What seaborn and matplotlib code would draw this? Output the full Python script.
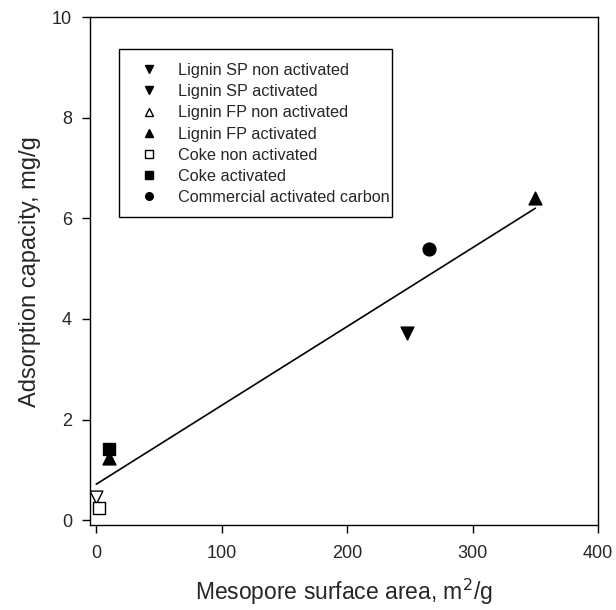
import numpy as np
import pandas as pd
import matplotlib
matplotlib.use('Agg')
import matplotlib.pyplot as plt
from matplotlib.lines import Line2D
from matplotlib.patches import Rectangle
import seaborn as sns

sns.set_style('ticks')
plt.rcParams['font.family'] = ['Liberation Sans', 'DejaVu Sans']

# Mesopore surface area (m2/g) and adsorption capacity (mg/g)
samples = ['Lignin SP non activated', 'Lignin SP activated', 'Lignin FP non activated',
           'Lignin FP activated', 'Lignin FP activated', 'Coke non activated',
           'Coke activated', 'Commercial activated carbon']
surface = [0, 248, np.nan, 10, 350, 2.4, 10, 265]
capacity = [0.46, 3.72, np.nan, 1.24, 6.4, 0.24, 1.42, 5.4]

legend_labels = ['Lignin SP non activated', 'Lignin SP activated', 'Lignin FP non activated',
                 'Lignin FP activated', 'Coke non activated', 'Coke activated',
                 'Commercial activated carbon']
legend_markers = ['v', 'v', '^', '^', 's', 's', 'o']
legend_filled = [True, True, False, True, False, True, True]

style = {
    'Lignin SP non activated': ('v', False),
    'Lignin SP activated': ('v', True),
    'Lignin FP non activated': ('^', False),
    'Lignin FP activated': ('^', True),
    'Coke non activated': ('s', False),
    'Coke activated': ('s', True),
    'Commercial activated carbon': ('o', True),
}

df = pd.DataFrame({'sample': samples, 'surface': surface, 'capacity': capacity})

fig = plt.figure(figsize=(6.16, 6.10), dpi=100)
ax = fig.add_axes([0.146, 0.139, 0.825, 0.833])

# linear fit over all measured points
sns.regplot(data=df.dropna(), x='surface', y='capacity', ci=None, scatter=False,
            color='black', line_kws={'linewidth': 1.2}, ax=ax)

for name, grp in df.dropna().groupby('sample', sort=False):
    m, filled = style[name]
    ax.scatter(grp['surface'], grp['capacity'], marker=m, s=85,
               facecolor='black' if filled else 'white', edgecolor='black',
               linewidth=1, zorder=3)

handles = [Line2D([], [], linestyle='none', marker=m, markersize=5.5,
                  markerfacecolor='black' if f else 'white', markeredgecolor='black',
                  markeredgewidth=1)
           for m, f in zip(legend_markers, legend_filled)]
leg = ax.legend(handles, legend_labels, loc='upper left',
                bbox_to_anchor=(133 / 616, 1 - 63 / 610), bbox_transform=fig.transFigure,
                frameon=False, fontsize=11.7, labelspacing=0.38, handletextpad=0.8,
                borderpad=0, borderaxespad=0)

# box round the legend: tight on the right like the original
fig.canvas.draw()
bb = leg.get_window_extent()
ax.add_artist(Rectangle((bb.x0 - 14, bb.y0 - 12), bb.width + 16, bb.height + 26,
                        transform=None, fill=False, edgecolor='black', linewidth=1,
                        zorder=5))

ax.set_xlim(-5, 400)
ax.set_ylim(-0.1, 10)
ax.set_xticks([0, 100, 200, 300, 400])
ax.set_yticks([0, 2, 4, 6, 8, 10])
ax.tick_params(labelsize=13, direction='out', length=6, width=1, color='black')
ax.tick_params(axis='y', pad=7)
ax.tick_params(axis='x', pad=8)
ax.set_xlabel('Mesopore surface area, m$^2$/g', fontsize=16.5, labelpad=11)
ax.set_ylabel('Adsorption capacity, mg/g', fontsize=17, labelpad=8)
for s in ax.spines.values():
    s.set_visible(True)
    s.set_linewidth(1)
    s.set_color('black')

fig.savefig('out.png', dpi=100)
